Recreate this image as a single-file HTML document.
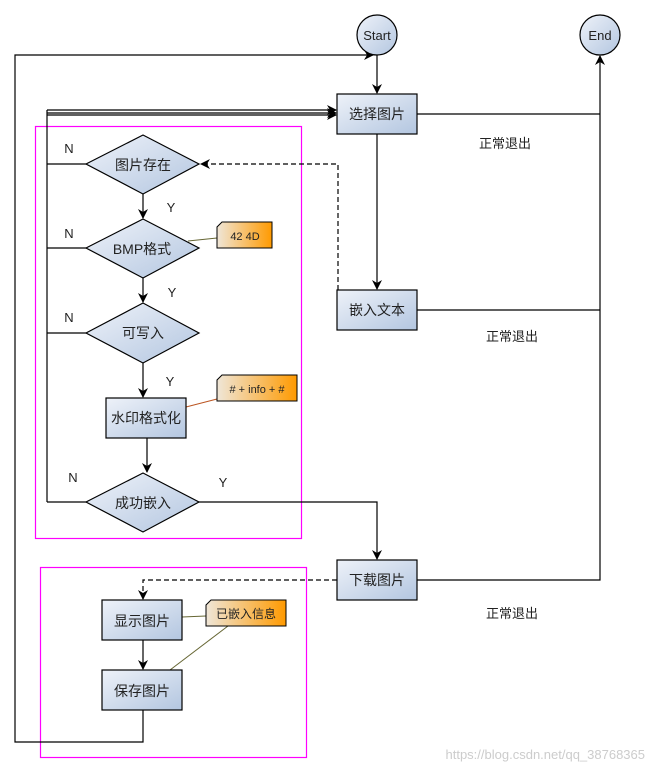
<!DOCTYPE html>
<html><head><meta charset="utf-8"><style>
html,body{margin:0;padding:0;background:#fff;}
svg{display:block;}
text{font-family:"Liberation Sans","Noto Sans CJK SC",sans-serif;}
</style></head><body>
<svg width="655" height="774" viewBox="0 0 655 774" xmlns="http://www.w3.org/2000/svg">
<defs>
<linearGradient id="g" x1="0" y1="0" x2="1" y2="1"><stop offset="0" stop-color="#eef2f9"/><stop offset="1" stop-color="#b3c6e0"/></linearGradient>
<linearGradient id="o" x1="0" y1="0" x2="1" y2="0"><stop offset="0" stop-color="#efe6d8"/><stop offset="1" stop-color="#ff9a00"/></linearGradient>
<marker id="a" markerWidth="10" markerHeight="10" refX="9" refY="5" orient="auto" markerUnits="userSpaceOnUse"><path d="M0,0 L10,5 L0,10 L3,5 z" fill="#000"/></marker>
</defs>
<g fill="none" stroke-width="1.2">
<rect x="35.5" y="126.5" width="266" height="412" stroke="#f0f"/>
<rect x="40.5" y="567.5" width="266" height="190" stroke="#f0f"/>
</g>
<g fill="none" stroke="#000" stroke-width="1.2">
<polyline points="143,710 143,742 15,742 15,55 373,55" marker-end="url(#a)"/>
<line x1="377" y1="55" x2="377" y2="93" marker-end="url(#a)"/>
<polyline points="47,110 336,110" marker-end="url(#a)"/>
<polyline points="47,113 336,113" marker-end="url(#a)"/>
<polyline points="47,115 336,115" marker-end="url(#a)"/>
<line x1="47" y1="110" x2="47" y2="502"/>
<line x1="47" y1="164" x2="86" y2="164"/>
<line x1="47" y1="248" x2="86" y2="248"/>
<line x1="47" y1="333" x2="86" y2="333"/>
<line x1="47" y1="502" x2="86" y2="502"/>
<line x1="143" y1="194" x2="143" y2="218" marker-end="url(#a)"/>
<line x1="143" y1="278" x2="143" y2="302" marker-end="url(#a)"/>
<line x1="143" y1="363" x2="143" y2="397" marker-end="url(#a)"/>
<line x1="147" y1="438" x2="147" y2="472" marker-end="url(#a)"/>
<line x1="377" y1="134" x2="377" y2="289" marker-end="url(#a)"/>
<polyline points="417,114 600,114"/>
<polyline points="417,310 600,310"/>
<polyline points="417,580 600,580 600,56" marker-end="url(#a)"/>
<polyline points="199,502 377,502 377,559" marker-end="url(#a)"/>
<line x1="143" y1="640" x2="143" y2="669" marker-end="url(#a)"/>
<polyline points="338,290 338,164 201,164" stroke-dasharray="5,3" marker-end="url(#a)"/>
<polyline points="337,580 143,580 143,599" stroke-dasharray="5,3" marker-end="url(#a)"/>
</g>
<g stroke-width="1">
<line x1="188" y1="241" x2="217" y2="238" stroke="#663"/>
<line x1="186" y1="407" x2="217" y2="399" stroke="#b52"/>
<line x1="182" y1="617" x2="206" y2="616" stroke="#663"/>
<line x1="170" y1="670" x2="228" y2="626" stroke="#663"/>
</g>
<g stroke="#000" stroke-width="1.2" fill="url(#g)">
<circle cx="377" cy="35" r="20"/>
<circle cx="600" cy="35" r="20"/>
<rect x="337" y="94" width="80" height="40"/>
<rect x="337" y="290" width="80" height="40"/>
<rect x="337" y="560" width="80" height="40"/>
<rect x="106" y="398" width="80" height="40"/>
<rect x="102" y="600" width="80" height="40"/>
<rect x="102" y="670" width="80" height="40"/>
<polygon points="86,164 143,135 199,164 143,194"/>
<polygon points="86,248 143,219 199,248 143,278"/>
<polygon points="86,333 143,303 199,333 143,363"/>
<polygon points="86,502 143,473 199,502 143,532"/>
</g>
<g stroke="#000" stroke-width="1" fill="url(#o)">
<polygon points="222,222 272,222 272,248 217,248 217,227"/>
<polygon points="222,375 297,375 297,401 217,401 217,380"/>
<polygon points="211,600 286,600 286,626 206,626 206,605"/>
</g>
<g font-size="13" fill="#222" text-anchor="middle">
<text x="377" y="40">Start</text>
<text x="600" y="40">End</text>
<text x="377" y="119" font-size="14">选择图片</text>
<text x="377" y="315" font-size="14">嵌入文本</text>
<text x="377" y="585" font-size="14">下载图片</text>
<text x="146" y="423" font-size="14">水印格式化</text>
<text x="142" y="626" font-size="14">显示图片</text>
<text x="142" y="696" font-size="14">保存图片</text>
<text x="143" y="170" font-size="14">图片存在</text>
<text x="142" y="254" font-size="14">BMP格式</text>
<text x="143" y="338" font-size="14">可写入</text>
<text x="143" y="508" font-size="14">成功嵌入</text>
<text x="245" y="240" font-size="11">42 4D</text>
<text x="257" y="393" font-size="11">#  + info + #</text>
<text x="246" y="618" font-size="12">已嵌入信息</text>
<text x="505" y="148" font-size="13">正常退出</text>
<text x="512" y="341" font-size="13">正常退出</text>
<text x="512" y="618" font-size="13">正常退出</text>
<text x="69" y="153">N</text>
<text x="69" y="238">N</text>
<text x="69" y="322">N</text>
<text x="73" y="482">N</text>
<text x="171" y="212">Y</text>
<text x="172" y="297">Y</text>
<text x="170" y="386">Y</text>
<text x="223" y="487">Y</text>
</g>
<text x="645" y="759" font-size="13" fill="#ccc" text-anchor="end">https://blog.csdn.net/qq_38768365</text>
</svg>
</body></html>
